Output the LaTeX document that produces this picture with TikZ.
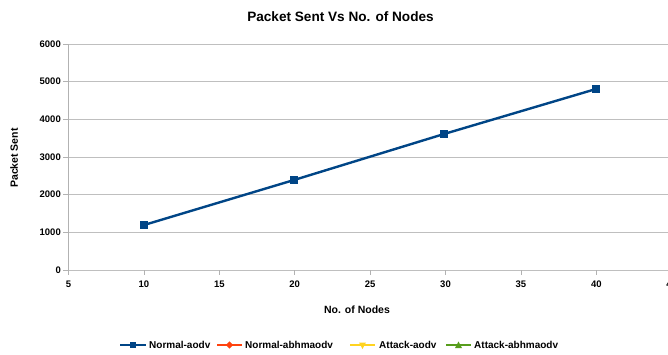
\documentclass[tikz,border=0pt]{standalone}
\usepackage{fontspec}
\setmainfont{Liberation Sans}
\begin{document}
\begin{tikzpicture}[x=1pt,y=-1pt,
  grid/.style={draw=black!25,line width=0.8pt},
  axis/.style={draw=black!30,line width=0.8pt},
  ticklab/.style={font=\bfseries\fontsize{9.5}{11}\selectfont,inner sep=0pt},
  series/.style={line width=2.4pt},
  marker/.style={minimum size=8pt,inner sep=0pt},
  leglab/.style={font=\bfseries\fontsize{10}{12}\selectfont,anchor=west,inner sep=0pt}]
\useasboundingbox (0,0) rectangle (668,354);
\definecolor{sblue}{RGB}{0,69,134}
\definecolor{sorange}{RGB}{255,66,14}
\definecolor{syellow}{RGB}{255,211,32}
\definecolor{sgreen}{RGB}{87,157,28}
% title
\node[font=\bfseries\fontsize{13.6}{16}\selectfont] (title) at (340.5,17) {Packet Sent Vs No. of Nodes};
% gridlines and y ticks
\foreach \v/\yy in {0/270,1000/232.3,2000/194.7,3000/157,4000/119.3,5000/81.7,6000/44}{
  \draw[grid] (68,\yy) -- (668,\yy);
  \draw[axis] (63,\yy) -- (68,\yy);
  \node[ticklab,anchor=east] at (61,\yy) {\v};
}
\draw[axis] (68,44) -- (68,275);
% x ticks
\foreach \v [count=\i from 0] in {5,10,15,20,25,30,35,40,45}{
  \pgfmathsetmacro{\xx}{68.5+\i*75.4}
  \draw[axis] (\xx,270) -- (\xx,275);
  \node[ticklab] at (\xx,284) {\v};
}
% axis titles
\node[font=\bfseries\fontsize{10.5}{12}\selectfont,rotate=90] (ylab) at (14,158) {Packet Sent};
\node[font=\bfseries\fontsize{10.5}{12}\selectfont] (xlab) at (357,310) {No. of Nodes};
% data
\node[marker] (p1) at (144,225) {};
\node[marker] (p2) at (294,180) {};
\node[marker] (p3) at (444,134) {};
\node[marker] (p4) at (596,89) {};
\draw[series,draw=sblue] (p1.center) -- (p2.center) -- (p3.center) -- (p4.center);
\foreach \p in {p1,p2,p3,p4}{\node[marker,fill=sblue] at (\p) {};}
% legend
\coordinate (l1a) at (120,345); \coordinate (l1b) at (146,345);
\draw[draw=sblue,line width=2.4pt] (l1a) -- (l1b);
\node[marker,fill=sblue,minimum size=6.5pt] (m1) at (133,345) {};
\node[leglab] (t1) at (149,345) {Normal-aodv};
\coordinate (l2a) at (217,345); \coordinate (l2b) at (242,345);
\draw[draw=sorange,line width=2.4pt] (l2a) -- (l2b);
\node[fill=sorange,minimum size=5pt,inner sep=0pt,rotate=45] (m2) at (229.5,345) {};
\node[leglab] (t2) at (245,345) {Normal-abhmaodv};
\coordinate (l3a) at (350,345); \coordinate (l3b) at (375,345);
\draw[draw=syellow,line width=2.4pt] (l3a) -- (l3b);
\fill[syellow] (359,342.5) -- (366,342.5) -- (362.5,349) -- cycle;
\node[leglab] (t3) at (379,345) {Attack-aodv};
\coordinate (l4a) at (446,345); \coordinate (l4b) at (471,345);
\draw[draw=sgreen,line width=2.4pt] (l4a) -- (l4b);
\fill[sgreen] (455,348) -- (462,348) -- (458.5,341.5) -- cycle;
\node[leglab] (t4) at (474,345) {Attack-abhmaodv};
\end{tikzpicture}
\end{document}
